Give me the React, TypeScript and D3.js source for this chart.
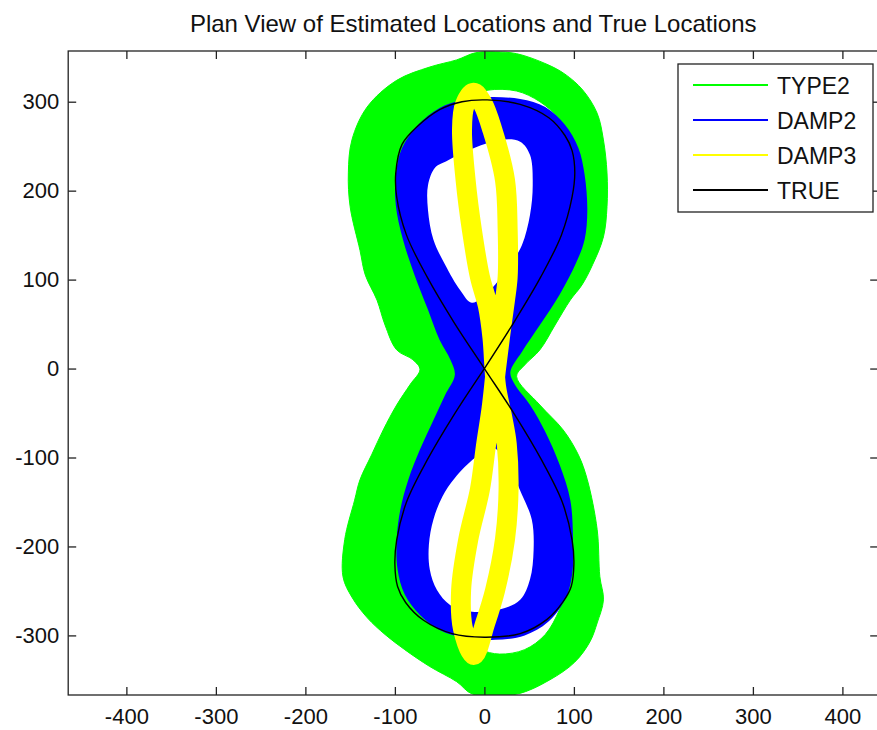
// PlanView.tsx
// plan view of estimated locations (three filters) against the true figure-8 track
import * as d3 from 'd3';
import React, { useRef, useEffect } from 'react';

const width = 877;
const height = 730;

const titleText = "Plan View of Estimated Locations and True Locations";
const xTicks = [-400, -300, -200, -100, 0, 100, 200, 300, 400];
const yTicks = [-300, -200, -100, 0, 100, 200, 300];
const seriesNames = ["TYPE2", "DAMP2", "DAMP3", "TRUE"];
const seriesColors = ["#00ff00", "#0000ff", "#ffff00", "#000000"];

// TYPE2: outer edge of the band of runs, plus the two lobes it leaves empty
const type2Outer = [
  [12, 356], [36, 354], [70, 342], [90, 331], [110, 313], [126, 287], [133, 257], [137, 220],
  [137, 182], [133, 148], [121, 117], [109, 94], [96, 77], [79, 49], [62, 21], [45, 4],
  [36, -9], [62, -41], [88, -69], [105, -97], [115, -125], [126, -181], [129, -234], [133, -260],
  [126, -286], [118, -307], [101, -330], [73, -350], [36, -366], [-13, -366], [-31, -352], [-61, -335],
  [-89, -316], [-111, -299], [-131, -280], [-148, -257], [-158, -234], [-156, -192], [-145, -148], [-139, -125],
  [-126, -97], [-113, -69], [-98, -41], [-83, -18], [-72, -1], [-80, 10], [-98, 21], [-111, 49],
  [-120, 77], [-133, 105], [-139, 133], [-150, 182], [-152, 220], [-148, 257], [-131, 294], [-98, 324],
  [-61, 339], [-31, 347], [-10, 355]
];
const type2HoleTop = [
  [4, 313], [36, 312], [62, 300], [84, 280], [99, 250], [105, 212], [103, 156], [90, 111],
  [62, 66], [29, 27], [1, 21], [-27, 38], [-50, 77], [-78, 133], [-89, 190], [-85, 246],
  [-66, 279], [-38, 296], [-16, 306]
];
const type2HoleBottom = [
  [1, -35], [45, -58], [79, -103], [93, -148], [98, -192], [96, -237], [84, -271], [68, -299],
  [45, -316], [17, -321], [-5, -316], [-27, -305], [-55, -285], [-78, -266], [-90, -226], [-90, -181],
  [-83, -136], [-66, -97], [-38, -58]
];

// DAMP2
const damp2Outer = [
  [1, 305], [40, 303], [68, 294], [90, 274], [105, 248], [112, 218], [115, 178], [112, 145],
  [103, 120], [84, 83], [62, 49], [42, 19], [29, -4], [34, -18], [51, -41], [68, -71],
  [84, -108], [96, -148], [99, -192], [98, -232], [90, -260], [71, -285], [45, -300], [12, -305],
  [-22, -303], [-50, -294], [-72, -277], [-89, -254], [-97, -226], [-98, -192], [-94, -159], [-85, -125],
  [-72, -91], [-57, -58], [-44, -30], [-33, -7], [-38, 10], [-50, 32], [-63, 66], [-78, 105],
  [-91, 145], [-99, 184], [-99, 218], [-92, 248], [-74, 274], [-50, 293], [-25, 302]
];
const damp2HoleTop = [
  [-41, 234], [-16, 246], [17, 257], [40, 255], [51, 240], [54, 206], [51, 173], [42, 139],
  [29, 117], [6, 88], [-14, 74], [-27, 88], [-44, 117], [-57, 145], [-63, 178], [-63, 206],
  [-55, 226]
];
const damp2HoleBottom = [
  [10, -89], [29, -114], [42, -142], [53, -170], [55, -204], [51, -237], [40, -260], [17, -271],
  [-16, -273], [-38, -266], [-53, -249], [-61, -226], [-62, -198], [-57, -170], [-47, -144], [-33, -123],
  [-10, -100]
];

// DAMP3: middle of its narrow band, followed once round the figure-8
const damp3Track = [
  [-12, 310], [-22, 296], [-25, 268], [-21, 212], [-14, 156], [-5, 103], [4, 70], [9, 35],
  [13, -20], [20, -55], [25, -85], [27, -136], [23, -192], [12, -249], [1, -286], [-12, -322],
  [-24, -292], [-26, -249], [-18, -192], [-5, -136], [2, -85], [8, -45], [13, 0], [18, 40],
  [23, 77], [26, 103], [26, 156], [23, 212], [9, 268], [-2, 298]
];

// TRUE track
const trueTrack = [
  [0, 0], [33, 52], [63, 103], [86, 150], [98, 193], [101, 220], [98, 245], [90, 262],
  [72, 282], [40, 297], [3, 302], [-25, 300], [-50, 291], [-75, 272], [-92, 252], [-99, 220],
  [-98, 193], [-87, 150], [-64, 103], [-34, 52], [0, 0], [34, -52], [64, -103], [87, -150],
  [98, -193], [100, -220], [97, -245], [88, -262], [70, -282], [40, -298], [0, -302], [-36, -298],
  [-68, -283], [-88, -263], [-97, -245], [-100, -220], [-98, -193], [-87, -150], [-64, -103], [-34, -52],
  [0, 0]
];

const font = "'Liberation Sans', Arial, sans-serif";

function PlanView() {
  const ref = useRef<SVGSVGElement>(null);

  useEffect(() => {
    const svg = d3.select(ref.current);
    svg.selectAll("*").remove();

    const left = 68.2, right = 878.2, top = 51, bottom = 695;
    const x = d3.scaleLinear().domain([-465, 440]).range([left, right]);
    const y = d3.scaleLinear().domain([-367, 357]).range([bottom, top]);
    const toPt = (p: number[]) => [x(p[0]), y(p[1])] as [number, number];
    const loop = d3.line().curve(d3.curveCatmullRomClosed);
    const open = d3.line().curve(d3.curveCatmullRom);
    const band = (rings: number[][][]) => rings.map(r => loop(r.map(toPt))).join("");

    svg.append("rect").attr("width", width).attr("height", height).attr("fill", "#fff");

    svg.append("defs").append("clipPath").attr("id", "plotArea")
      .append("rect").attr("x", left).attr("y", top)
      .attr("width", right - left).attr("height", bottom - top);

    const plot = svg.append("g").attr("clip-path", "url(#plotArea)");

    plot.append("path")
      .attr("d", band([type2Outer, type2HoleTop, type2HoleBottom]))
      .attr("fill", seriesColors[0]).attr("fill-rule", "evenodd")
      .attr("stroke", seriesColors[0]).attr("stroke-width", 1);

    plot.append("path")
      .attr("d", band([damp2Outer, damp2HoleTop, damp2HoleBottom]))
      .attr("fill", seriesColors[1]).attr("fill-rule", "evenodd");

    plot.append("path")
      .attr("d", loop(damp3Track.map(toPt)))
      .attr("fill", "none").attr("stroke", seriesColors[2])
      .attr("stroke-width", 20).attr("stroke-linejoin", "round");

    plot.append("path")
      .attr("d", open(trueTrack.map(toPt)))
      .attr("fill", "none").attr("stroke", seriesColors[3]).attr("stroke-width", 1.4);

    // axes: box with inward ticks on every side, labels only bottom and left
    const tickLen = -8;
    const label = (d: any) => String(d);
    const styleAxis = (g: any) => {
      g.select(".domain").remove();
      g.selectAll(".tick line").attr("stroke", "#222").attr("stroke-width", 1.3);
      g.selectAll("text").attr("fill", "#111").attr("font-family", font).attr("font-size", 22);
    };
    svg.append("g").attr("transform", `translate(0,${bottom})`)
      .call(d3.axisBottom(x).tickValues(xTicks).tickSize(tickLen).tickPadding(13.5).tickFormat(label))
      .call(styleAxis);
    svg.append("g").attr("transform", `translate(0,${top})`)
      .call(d3.axisTop(x).tickValues(xTicks).tickSize(tickLen).tickFormat(() => ""))
      .call(styleAxis);
    svg.append("g").attr("transform", `translate(${left},0)`)
      .call(d3.axisLeft(y).tickValues(yTicks).tickSize(tickLen).tickPadding(9).tickFormat(label))
      .call(styleAxis);
    svg.append("g").attr("transform", `translate(${right},0)`)
      .call(d3.axisRight(y).tickValues(yTicks).tickSize(tickLen).tickFormat(() => ""))
      .call(styleAxis);

    svg.append("rect")
      .attr("x", left).attr("y", top)
      .attr("width", right - left).attr("height", bottom - top)
      .attr("fill", "none").attr("stroke", "#222").attr("stroke-width", 1.3);

    svg.append("text")
      .attr("x", (left + right) / 2).attr("y", 32)
      .attr("text-anchor", "middle")
      .attr("font-family", font).attr("font-size", 24).attr("fill", "#111")
      .text(titleText);

    // legend
    const lg = svg.append("g").attr("transform", "translate(678,64)");
    lg.append("rect").attr("width", 195).attr("height", 148)
      .attr("fill", "#fff").attr("stroke", "#222").attr("stroke-width", 1.3);
    seriesNames.forEach((name, i) => {
      const cy = 21 + i * 35;
      lg.append("line").attr("x1", 15).attr("x2", 90).attr("y1", cy).attr("y2", cy)
        .attr("stroke", seriesColors[i]).attr("stroke-width", 2);
      lg.append("text").attr("x", 99).attr("y", cy + 8.5)
        .attr("font-family", font).attr("font-size", 23).attr("fill", "#111")
        .text(name);
    });
  }, []);

  return (
    <svg ref={ref} width={width} height={height}
      style={{ position: "absolute", left: 0, top: 0, display: "block" }}>
    </svg>
  );
}

export default function App() {
  return <PlanView />;
}
